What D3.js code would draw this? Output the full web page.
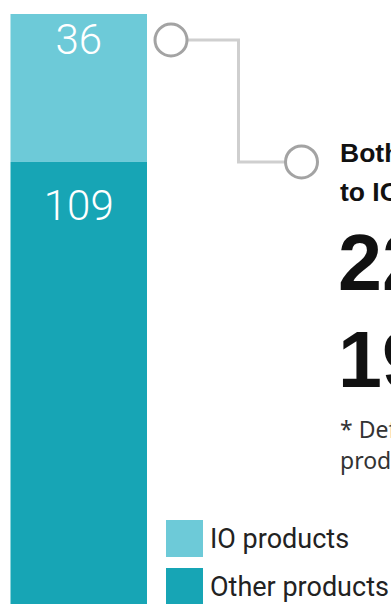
<!DOCTYPE html>
<html>
<head>
<meta charset="utf-8">
<script src="https://cdn.jsdelivr.net/npm/d3@7"></script>
<style>
  body { margin: 0; background: #fff; overflow: hidden; }
  svg { display: block; }
</style>
</head>
<body>
<div id="chart"></div>
<script>
// Stacked bar values (bottom to top)
const categories = ['Other products', 'IO products'];
const values = [109, 36];
const colors = ['#17a5b5', '#6dcad8'];

// Legend order (top to bottom)
const legendLabels = ['IO products', 'Other products'];
const legendColors = ['#6dcad8', '#17a5b5'];

// Annotation texts
const calloutTitle = ['Both related', 'to IO products*'];
const calloutNumbers = ['22%', '19%'];
const footnote = ['* Defined as', 'products with IO'];

const width = 391;
const height = 604;

const svg = d3.select('#chart')
    .append('svg')
    .attr('width', width)
    .attr('height', height);

const total = d3.sum(values);

const xScale = d3.scaleBand()
    .domain(['all'])
    .range([10.5, 147])
    .padding(0);

const yScale = d3.scaleLinear()
    .domain([0, total])
    .range([610, 14]);

// stack the segments
let acc = 0;
const segments = values.map((v, i) => {
    const s = { name: categories[i], value: v, y0: acc, y1: acc + v, color: colors[i] };
    acc += v;
    return s;
});

svg.selectAll('.seg')
    .data(segments)
    .enter()
    .append('rect')
    .attr('class', 'seg')
    .attr('x', xScale('all'))
    .attr('width', xScale.bandwidth())
    .attr('y', d => yScale(d.y1))
    .attr('height', d => yScale(d.y0) - yScale(d.y1))
    .attr('fill', d => d.color);

// value labels near top of each segment
svg.selectAll('.seg-label')
    .data(segments)
    .enter()
    .append('text')
    .attr('class', 'seg-label')
    .attr('x', xScale('all') + xScale.bandwidth() / 2)
    .attr('y', (d, i) => yScale(d.y1) + (i === 0 ? 58 : 40))
    .attr('text-anchor', 'middle')
    .style('font-family', 'Roboto, sans-serif')
    .style('font-weight', 300)
    .style('font-size', '42px')
    .attr('fill', '#fff')
    .text(d => d.value);

// connector from top segment to callout
const c1 = { x: 171, y: yScale(total) + 26 };
const c2 = { x: 301.5, y: yScale(values[0]) };
const elbowX = 238.5;

svg.append('path')
    .attr('d', `M${c1.x + 16},${c1.y} H${elbowX} V${c2.y} H${c2.x - 16}`)
    .attr('fill', 'none')
    .attr('stroke', '#cfcfcf')
    .attr('stroke-width', 3);

svg.selectAll('.dot')
    .data([c1, c2])
    .enter()
    .append('circle')
    .attr('class', 'dot')
    .attr('cx', d => d.x)
    .attr('cy', d => d.y)
    .attr('r', 16)
    .attr('fill', '#fff')
    .attr('stroke', '#a3a3a3')
    .attr('stroke-width', 3);

// callout text block
const tx = 340;

svg.selectAll('.title-line')
    .data(calloutTitle)
    .enter()
    .append('text')
    .attr('class', 'title-line')
    .attr('x', tx)
    .attr('y', (d, i) => 162 + i * 38.5)
    .style('font-family', '"Liberation Sans", Arial, sans-serif')
    .style('font-weight', 'bold')
    .style('font-size', '26.5px')
    .attr('fill', '#111')
    .text(d => d);

svg.selectAll('.big-num')
    .data(calloutNumbers)
    .enter()
    .append('text')
    .attr('class', 'big-num')
    .attr('x', tx - 2)
    .attr('y', (d, i) => 290 + i * 97)
    .style('font-family', '"Liberation Sans", Arial, sans-serif')
    .style('font-weight', 'bold')
    .style('font-size', '79px')
    .attr('fill', '#111')
    .text(d => d);

svg.selectAll('.foot')
    .data(footnote)
    .enter()
    .append('text')
    .attr('class', 'foot')
    .attr('x', tx)
    .attr('y', (d, i) => 438 + i * 31)
    .style('font-family', '"Noto Sans", sans-serif')
    .style('font-size', '23px')
    .attr('fill', '#333')
    .text(d => d);

// legend
const legend = svg.selectAll('.legend')
    .data(legendLabels)
    .enter()
    .append('g')
    .attr('class', 'legend')
    .attr('transform', (d, i) => `translate(166,${520 + i * 48})`);

legend.append('rect')
    .attr('width', 37)
    .attr('height', 37)
    .attr('fill', (d, i) => legendColors[i]);

legend.append('text')
    .attr('x', 44)
    .attr('y', 28)
    .style('font-family', 'Roboto, sans-serif')
    .style('font-size', '27px')
    .attr('fill', '#222')
    .text(d => d);
</script>
</body>
</html>
